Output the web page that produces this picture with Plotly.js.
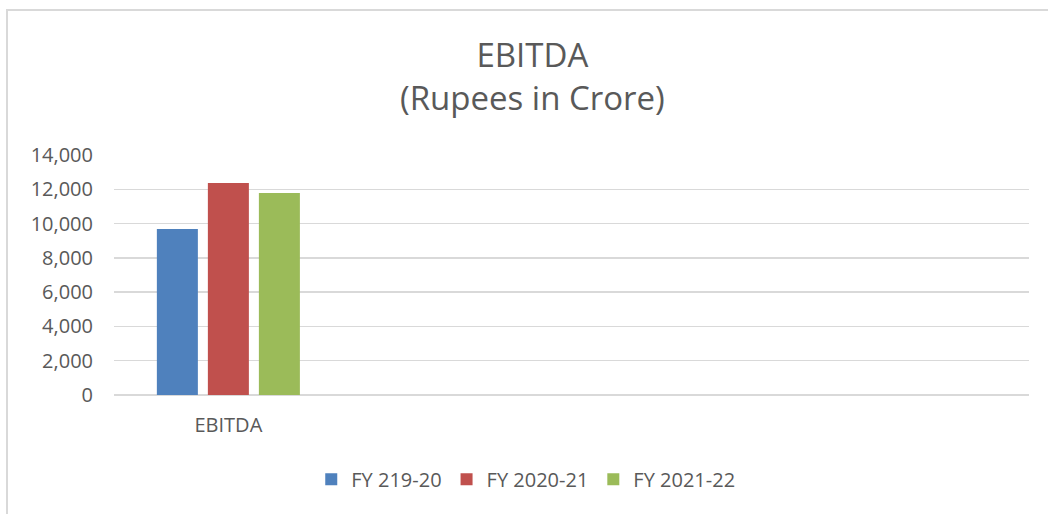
<!DOCTYPE html>
<html>
<head>
<meta charset="utf-8">
<script src="https://cdn.plot.ly/plotly-3.0.1.min.js"></script>
<style>
html,body{margin:0;padding:0;background:#fff;overflow:hidden;}
#chart{width:1048px;height:514px;}
#frame{position:absolute;left:6px;top:9px;width:1200px;height:700px;border-left:2px solid #d9d9d9;border-top:2px solid #d9d9d9;pointer-events:none;}
</style>
</head>
<body>
<div id="chart"></div>
<div id="frame"></div>
<script>
const categories = ["EBITDA"];
const seriesNames = ["FY 219-20", "FY 2020-21", "FY 2021-22"];
const seriesValues = [[9680], [12370], [11780]];
const seriesColors = ["#4f81bd", "#c0504d", "#9bbb59"];
const yTickValues = [0, 2000, 4000, 6000, 8000, 10000, 12000, 14000];

const font = "'Open Sans', sans-serif";

const traces = seriesNames.map((name, i) => ({
  type: "bar",
  name: name,
  x: categories,
  y: seriesValues[i],
  marker: {color: seriesColors[i]},
  hoverinfo: "x+y+name"
}));

const layout = {
  width: 1048,
  height: 514,
  paper_bgcolor: "#ffffff",
  plot_bgcolor: "#ffffff",
  margin: {l: 114, r: 19, t: 155, b: 119},
  font: {family: font, color: "#595959", size: 20},
  title: {
    text: "EBITDA<br>(Rupees in Crore)",
    font: {family: font, size: 33, color: "#595959"},
    xref: "container",
    x: 0.508, xanchor: "center",
    yref: "container",
    y: 0.87, yanchor: "top"
  },
  barmode: "group",
  bargap: 0.331,
  bargroupgap: 0.196,
  xaxis: {
    type: "category",
    range: [-0.5, 3.5],
    showgrid: false,
    showline: false,
    zeroline: false,
    ticks: "",
    ticklabelstandoff: 16,
    tickfont: {family: font, size: 20, color: "#595959"}
  },
  yaxis: {
    range: [0, 14000],
    tickvals: yTickValues,
    tickformat: ",d",
    showgrid: true,
    gridcolor: "#d9d9d9",
    gridwidth: 1.5,
    zeroline: true,
    zerolinecolor: "#d9d9d9",
    zerolinewidth: 1.5,
    showline: false,
    ticks: "",
    ticklabelstandoff: 20,
    tickfont: {family: font, size: 20, color: "#595959"}
  },
  showlegend: true,
  legend: {
    orientation: "h",
    x: 0.45, xanchor: "center",
    y: -0.27, yanchor: "top",
    font: {family: font, size: 20, color: "#595959"},
    itemwidth: 30,
    traceorder: "normal"
  }
};

Plotly.newPlot("chart", traces, layout, {displayModeBar: false, staticPlot: true});
</script>
</body>
</html>
